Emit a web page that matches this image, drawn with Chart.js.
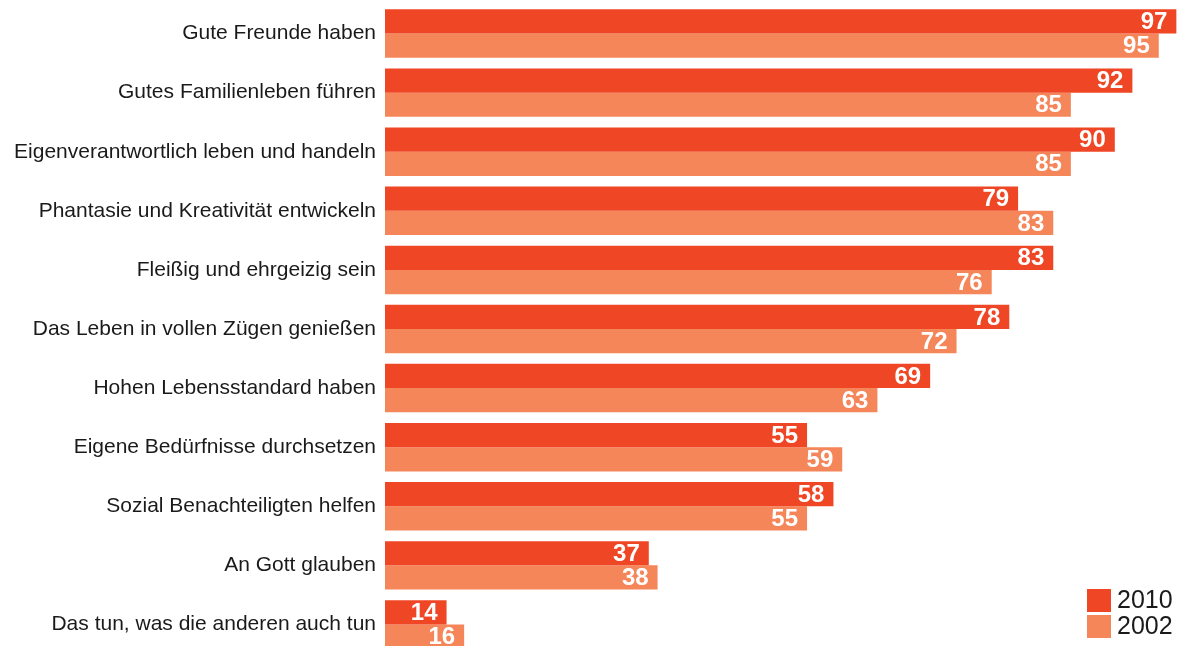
<!DOCTYPE html>
<html>
<head>
<meta charset="utf-8">
<script src="https://cdn.jsdelivr.net/npm/chart.js@4"></script>
<style>
  html, body { margin: 0; padding: 0; background: #fff; overflow: hidden; width: 1179px; height: 646px; }
  canvas { display: block; }
</style>
</head>
<body>
<canvas id="chart" width="1179" height="654"></canvas>
<script>
var categories = [
    'Gute Freunde haben',
    'Gutes Familienleben führen',
    'Eigenverantwortlich leben und handeln',
    'Phantasie und Kreativität entwickeln',
    'Fleißig und ehrgeizig sein',
    'Das Leben in vollen Zügen genießen',
    'Hohen Lebensstandard haben',
    'Eigene Bedürfnisse durchsetzen',
    'Sozial Benachteiligten helfen',
    'An Gott glauben',
    'Das tun, was die anderen auch tun'
];
var values2010 = [97, 92, 90, 79, 83, 78, 69, 55, 58, 37, 14];
var values2002 = [95, 85, 85, 83, 76, 72, 63, 59, 55, 38, 16];

var FONT = '"Liberation Sans", Arial, Helvetica, sans-serif';

// white numbers at the end of each bar
var valueLabels = {
    id: 'valueLabels',
    afterDatasetsDraw: function (chart) {
        var ctx = chart.ctx;
        ctx.save();
        ctx.fillStyle = '#ffffff';
        ctx.font = 'bold 24px ' + FONT;
        ctx.textAlign = 'right';
        ctx.textBaseline = 'middle';
        chart.data.datasets.forEach(function (ds, i) {
            chart.getDatasetMeta(i).data.forEach(function (bar, j) {
                ctx.fillText(ds.data[j], bar.x - 9, bar.y + 1);
            });
        });
        ctx.restore();
    }
};

// legend in the lower right corner
var cornerLegend = {
    id: 'cornerLegend',
    afterDraw: function (chart) {
        var ctx = chart.ctx;
        ctx.save();
        ctx.font = '25px ' + FONT;
        ctx.textAlign = 'left';
        ctx.textBaseline = 'middle';
        chart.data.datasets.forEach(function (ds, i) {
            var y = 589 + i * 26;
            ctx.fillStyle = ds.backgroundColor;
            ctx.fillRect(1087, y, 24, 23);
            ctx.fillStyle = '#1a1a1a';
            ctx.fillText(ds.label, 1117, y + 12);
        });
        ctx.restore();
    }
};

var chart = new Chart(
    document.getElementById('chart'),
    {
        type: 'bar',
        data: {
            labels: categories,
            datasets: [{
                label: '2010',
                backgroundColor: '#EF4625',
                data: values2010,
                barPercentage: 1.0,
                categoryPercentage: 0.82
            },
            {
                label: '2002',
                backgroundColor: '#F4865A',
                data: values2002,
                barPercentage: 1.0,
                categoryPercentage: 0.82
            }]
        },
        options: {
            indexAxis: 'y',
            responsive: false,
            animation: false,
            devicePixelRatio: 1,
            layout: {
                padding: { top: 4, right: 0, bottom: 0, left: 0 }
            },
            scales: {
                x: {
                    display: false,
                    min: 7,
                    max: 97.3
                },
                y: {
                    grid: { display: false, drawTicks: false },
                    border: { display: false },
                    ticks: {
                        color: '#1a1a1a',
                        font: { family: FONT, size: 21 },
                        padding: 9
                    },
                    afterFit: function (scale) {
                        scale.width = 385;
                        // no extra room above/below for the tick labels
                        scale.paddingTop = 0;
                        scale.paddingBottom = 0;
                    }
                }
            },
            plugins: {
                legend: { display: false },
                tooltip: { enabled: false }
            }
        },
        plugins: [valueLabels, cornerLegend]
    }
);
</script>
</body>
</html>
